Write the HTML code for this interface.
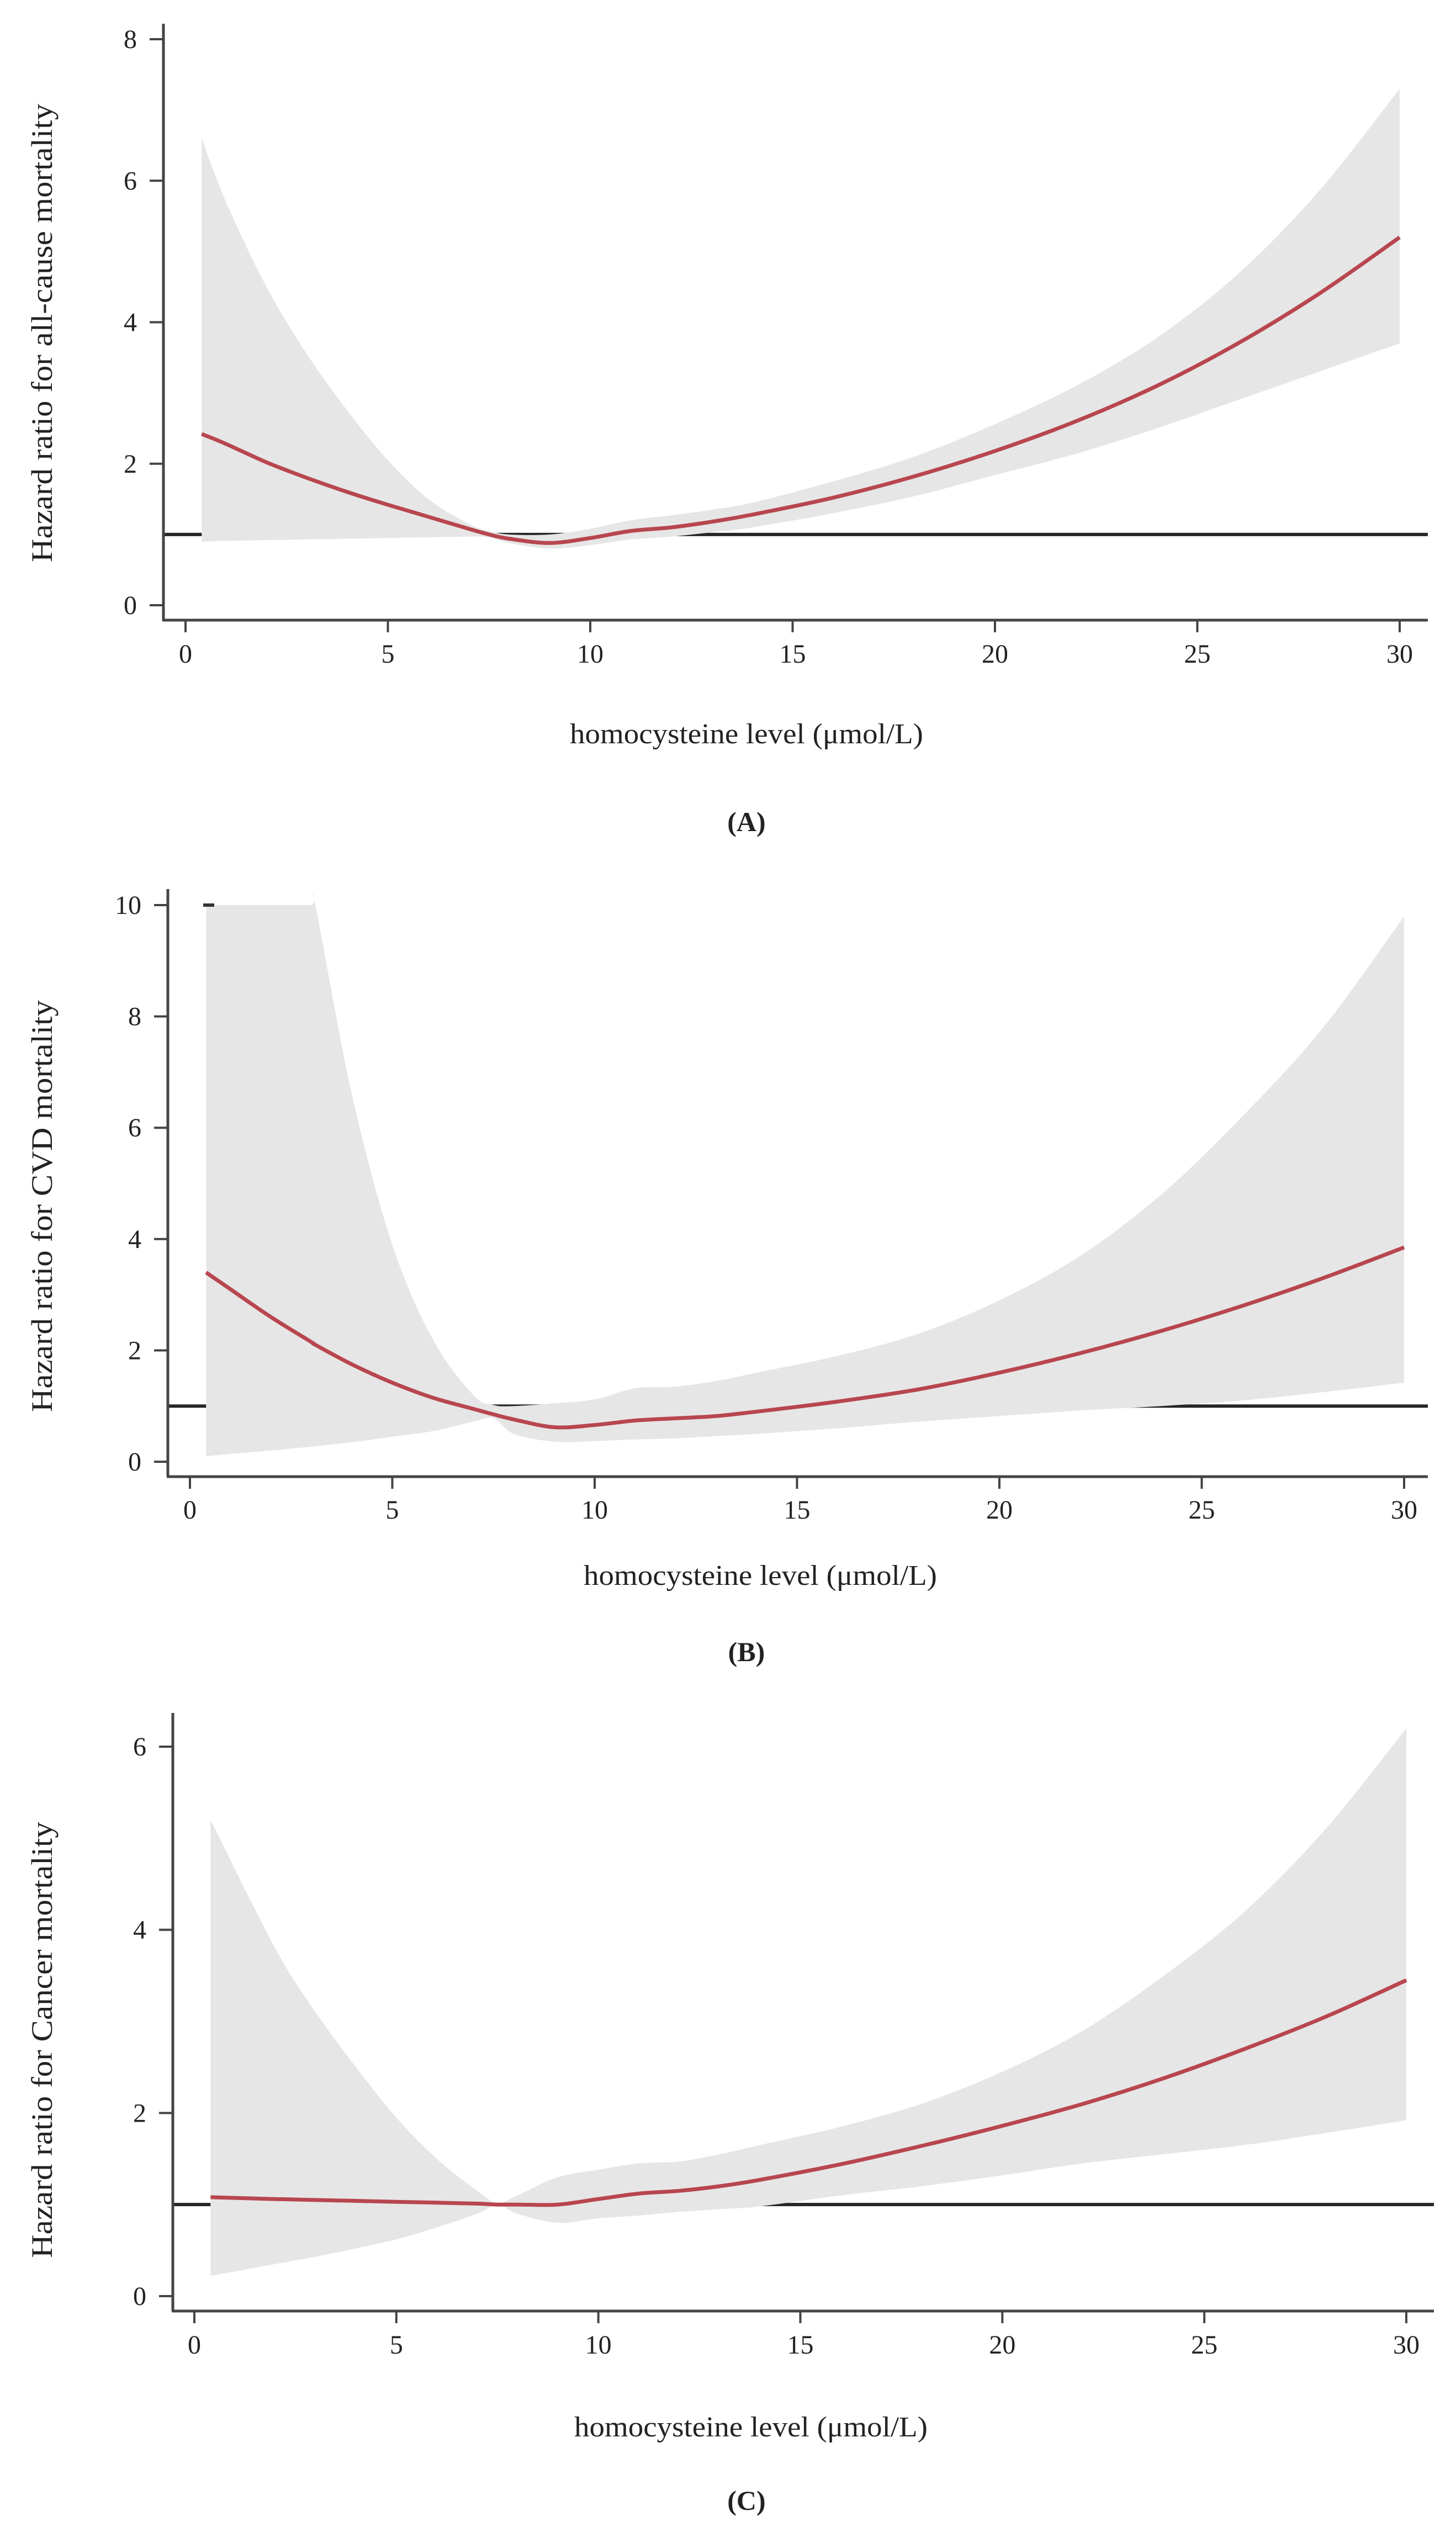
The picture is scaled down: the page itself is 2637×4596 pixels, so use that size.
<!DOCTYPE html>
<html><head><meta charset="utf-8">
<style>
html,body{margin:0;padding:0;background:#fff;}
svg{display:block;}
text{font-family:"Liberation Serif",serif;fill:#222;}
</style></head>
<body>
<svg id="fig" width="2637" height="4596" viewBox="0 0 2637 4596" xmlns="http://www.w3.org/2000/svg"></svg>
<script>
// ---- Data ----
const xTickLabels = [0,5,10,15,20,25,30];
// Panel A: all-cause mortality
const aX     = [0.4,1,2,3,4,5,6,7,7.5,8,9,10,11,12,13,14,16,18,20,22,24,26,28,30];
const aHR    = [2.42,2.28,2.02,1.8,1.6,1.42,1.25,1.08,1.0,0.94,0.88,0.95,1.05,1.1,1.18,1.28,1.52,1.82,2.18,2.6,3.1,3.7,4.4,5.2];
const aUpper = [6.6,5.7,4.5,3.55,2.75,2.05,1.5,1.15,1.05,1.0,1.0,1.08,1.2,1.27,1.35,1.45,1.75,2.1,2.56,3.1,3.78,4.68,5.85,7.3];
const aLower = [0.9,0.91,0.92,0.93,0.94,0.95,0.96,0.97,0.96,0.88,0.8,0.85,0.93,0.97,1.03,1.1,1.3,1.54,1.84,2.14,2.5,2.9,3.3,3.7];
const aTicks = [0,2,4,6,8];
// Panel B: CVD mortality
const bX     = [0.4,1,2,3,3.1,4,5,6,7,7.5,8,9,10,11,12,13,14,16,18,20,22,24,26,28,30];
const bHR    = [3.4,3.1,2.6,2.15,2.1,1.75,1.42,1.15,0.95,0.85,0.76,0.62,0.66,0.74,0.78,0.82,0.9,1.08,1.3,1.6,1.95,2.35,2.8,3.3,3.85];
const bUpper = [10,10,10,10,10,6.6,3.9,2.2,1.2,1.02,1.0,1.05,1.12,1.32,1.35,1.45,1.6,1.9,2.3,2.9,3.7,4.8,6.2,7.8,9.8];
const bLower = [0.1,0.14,0.2,0.27,0.28,0.35,0.45,0.55,0.72,0.78,0.5,0.36,0.37,0.4,0.42,0.46,0.5,0.6,0.72,0.82,0.92,1.0,1.1,1.25,1.42];
const bTicks = [0,2,4,6,8,10];
// Panel C: cancer mortality
const cX     = [0.4,2,3,4,5,6,7,7.5,8,9,10,11,12,13,14,16,18,20,22,24,26,28,30];
const cHR    = [1.08,1.06,1.05,1.04,1.03,1.02,1.01,1.0,1.0,1.0,1.06,1.12,1.15,1.2,1.27,1.44,1.64,1.86,2.1,2.38,2.7,3.05,3.45];
const cUpper = [5.2,3.8,3.1,2.5,1.95,1.5,1.15,1.02,1.1,1.3,1.38,1.45,1.47,1.55,1.65,1.85,2.1,2.45,2.9,3.5,4.2,5.1,6.2];
const cLower = [0.22,0.35,0.43,0.52,0.62,0.75,0.9,1.0,0.9,0.8,0.85,0.88,0.92,0.95,0.98,1.1,1.2,1.32,1.45,1.55,1.65,1.78,1.92];
const cTicks = [0,2,4,6];

const NS = "http://www.w3.org/2000/svg";
const svg = document.getElementById('fig');
function mk(tag, attrs, parent){
  const e = document.createElementNS(NS, tag);
  for (const k in attrs) e.setAttribute(k, attrs[k]);
  (parent||svg).appendChild(e);
  return e;
}
// smooth path through points (Catmull-Rom -> cubic Bezier)
function smooth(pts, start){
  let d = (start ? 'M' : 'L') + pts[0][0].toFixed(1) + ',' + pts[0][1].toFixed(1);
  for (let i = 0; i < pts.length - 1; i++){
    const p0 = pts[Math.max(0,i-1)], p1 = pts[i], p2 = pts[i+1], p3 = pts[Math.min(pts.length-1,i+2)];
    const c1x = p1[0] + (p2[0]-p0[0])/6, c1y = p1[1] + (p2[1]-p0[1])/6;
    const c2x = p2[0] - (p3[0]-p1[0])/6, c2y = p2[1] - (p3[1]-p1[1])/6;
    d += 'C' + c1x.toFixed(1) + ',' + c1y.toFixed(1) + ' ' + c2x.toFixed(1) + ',' + c2y.toFixed(1) + ' ' + p2[0].toFixed(1) + ',' + p2[1].toFixed(1);
  }
  return d;
}

function panel(cfg){
  const g = mk('g', {});
  
  
  const sx = v => cfg.x0 + (cfg.x30 - cfg.x0) * v / 30;
  const sy = v => cfg.y0 - (cfg.y0 - cfg.yTop) * v / cfg.yTopVal;

  const ref = mk('line', {x1: cfg.axisX, x2: cfg.axisEnd, y1: sy(1), y2: sy(1), stroke: '#262626', 'stroke-width': 6}, g);
  
  

  const upPts = cfg.xs.map((x,i)=>[sx(x), sy(cfg.up[i])]);
  const loPts = cfg.xs.map((x,i)=>[sx(x), sy(cfg.lo[i])]).reverse();
  const d = smooth(upPts, true) + smooth(loPts, false) + 'Z';
  const band = mk('path', {d: d, fill: '#e6e6e6'}, g);
  
  

  const hrPts = cfg.xs.map((x,i)=>[sx(x), sy(cfg.hr[i])]);
  const curve = mk('path', {d: smooth(hrPts, true), fill: 'none', stroke: '#b8464f', 'stroke-width': 7, 'stroke-linejoin': 'round'}, g);
  
  

  const yax = mk('line', {x1: cfg.axisX, x2: cfg.axisX, y1: cfg.axisTop, y2: cfg.axisY, stroke: '#444', 'stroke-width': 5}, g);
  
  
  const xax = mk('line', {x1: cfg.axisX - 2, x2: cfg.axisEnd, y1: cfg.axisY, y2: cfg.axisY, stroke: '#444', 'stroke-width': 5}, g);
  
  

  cfg.ticks.forEach(t=>{
    mk('line', {x1: cfg.axisX - 25, x2: cfg.axisX, y1: sy(t), y2: sy(t), stroke: '#444', 'stroke-width': 4}, g);
    const tl = mk('text', {x: cfg.axisX - 48, y: sy(t) + 16, 'font-size': 48, 'text-anchor': 'end'}, g);
    tl.textContent = t;
    
    
  });
  xTickLabels.forEach(t=>{
    mk('line', {x1: sx(t), x2: sx(t), y1: cfg.axisY, y2: cfg.axisY + 22, stroke: '#444', 'stroke-width': 4}, g);
    const tl = mk('text', {x: sx(t), y: cfg.xLabY, 'font-size': 48, 'text-anchor': 'middle'}, g);
    tl.textContent = t;
    
    
  });

  const xt = mk('text', {x: cfg.xtX, y: cfg.xtY, 'font-size': 52, 'text-anchor': 'middle', textLength: 640, lengthAdjust: 'spacingAndGlyphs'}, g);
  xt.textContent = 'homocysteine level (\u03bcmol/L)';
  
  

  const yt = mk('text', {x: 0, y: 0, 'font-size': 54, 'text-anchor': 'middle', textLength: cfg.ytLen, lengthAdjust: 'spacingAndGlyphs', transform: 'translate(' + cfg.ytX + ',' + cfg.ytY + ') rotate(-90)'}, g);
  yt.textContent = cfg.ytitle;
  
  

  const lab = mk('text', {x: cfg.labX, y: cfg.labY, 'font-size': 50, 'font-weight': 'bold', 'text-anchor': 'middle'}, g);
  lab.textContent = cfg.label;
  
  
  return {g, sx, sy};
}

panel({name:'panel-a-all-cause', xs:aX, hr:aHR, up:aUpper, lo:aLower, ticks:aTicks, yTopVal:8,
  x0:336, x30:2535, y0:1096, yTop:71, axisX:296, axisY:1123, axisTop:43, axisEnd:2586,
  xLabY:1200, xtX:1352, xtY:1346, ytX:94, ytY:603, ytLen:830, ytitle:'Hazard ratio for all-cause mortality',
  labX:1352, labY:1505, label:'(A)'});

const pb = panel({name:'panel-b-cvd', xs:bX, hr:bHR, up:bUpper, lo:bLower, ticks:bTicks, yTopVal:10,
  x0:344, x30:2543, y0:2647, yTop:1639, axisX:304, axisY:2674, axisTop:1610, axisEnd:2586,
  xLabY:2750, xtX:1377, xtY:2870, ytX:94, ytY:2184, ytLen:746, ytitle:'Hazard ratio for CVD mortality',
  labX:1352, labY:3008, label:'(B)'});
const dash = mk('line', {x1: 368, x2: 388, y1: pb.sy(10), y2: pb.sy(10), stroke: '#333', 'stroke-width': 6}, pb.g);



panel({name:'panel-c-cancer', xs:cX, hr:cHR, up:cUpper, lo:cLower, ticks:cTicks, yTopVal:6,
  x0:352, x30:2547, y0:4158, yTop:3163, axisX:313, axisY:4185, axisTop:3102, axisEnd:2597,
  xLabY:4262, xtX:1360, xtY:4412, ytX:94, ytY:3694, ytLen:790, ytitle:'Hazard ratio for Cancer mortality',
  labX:1352, labY:4545, label:'(C)'});
</script>
</body></html>
